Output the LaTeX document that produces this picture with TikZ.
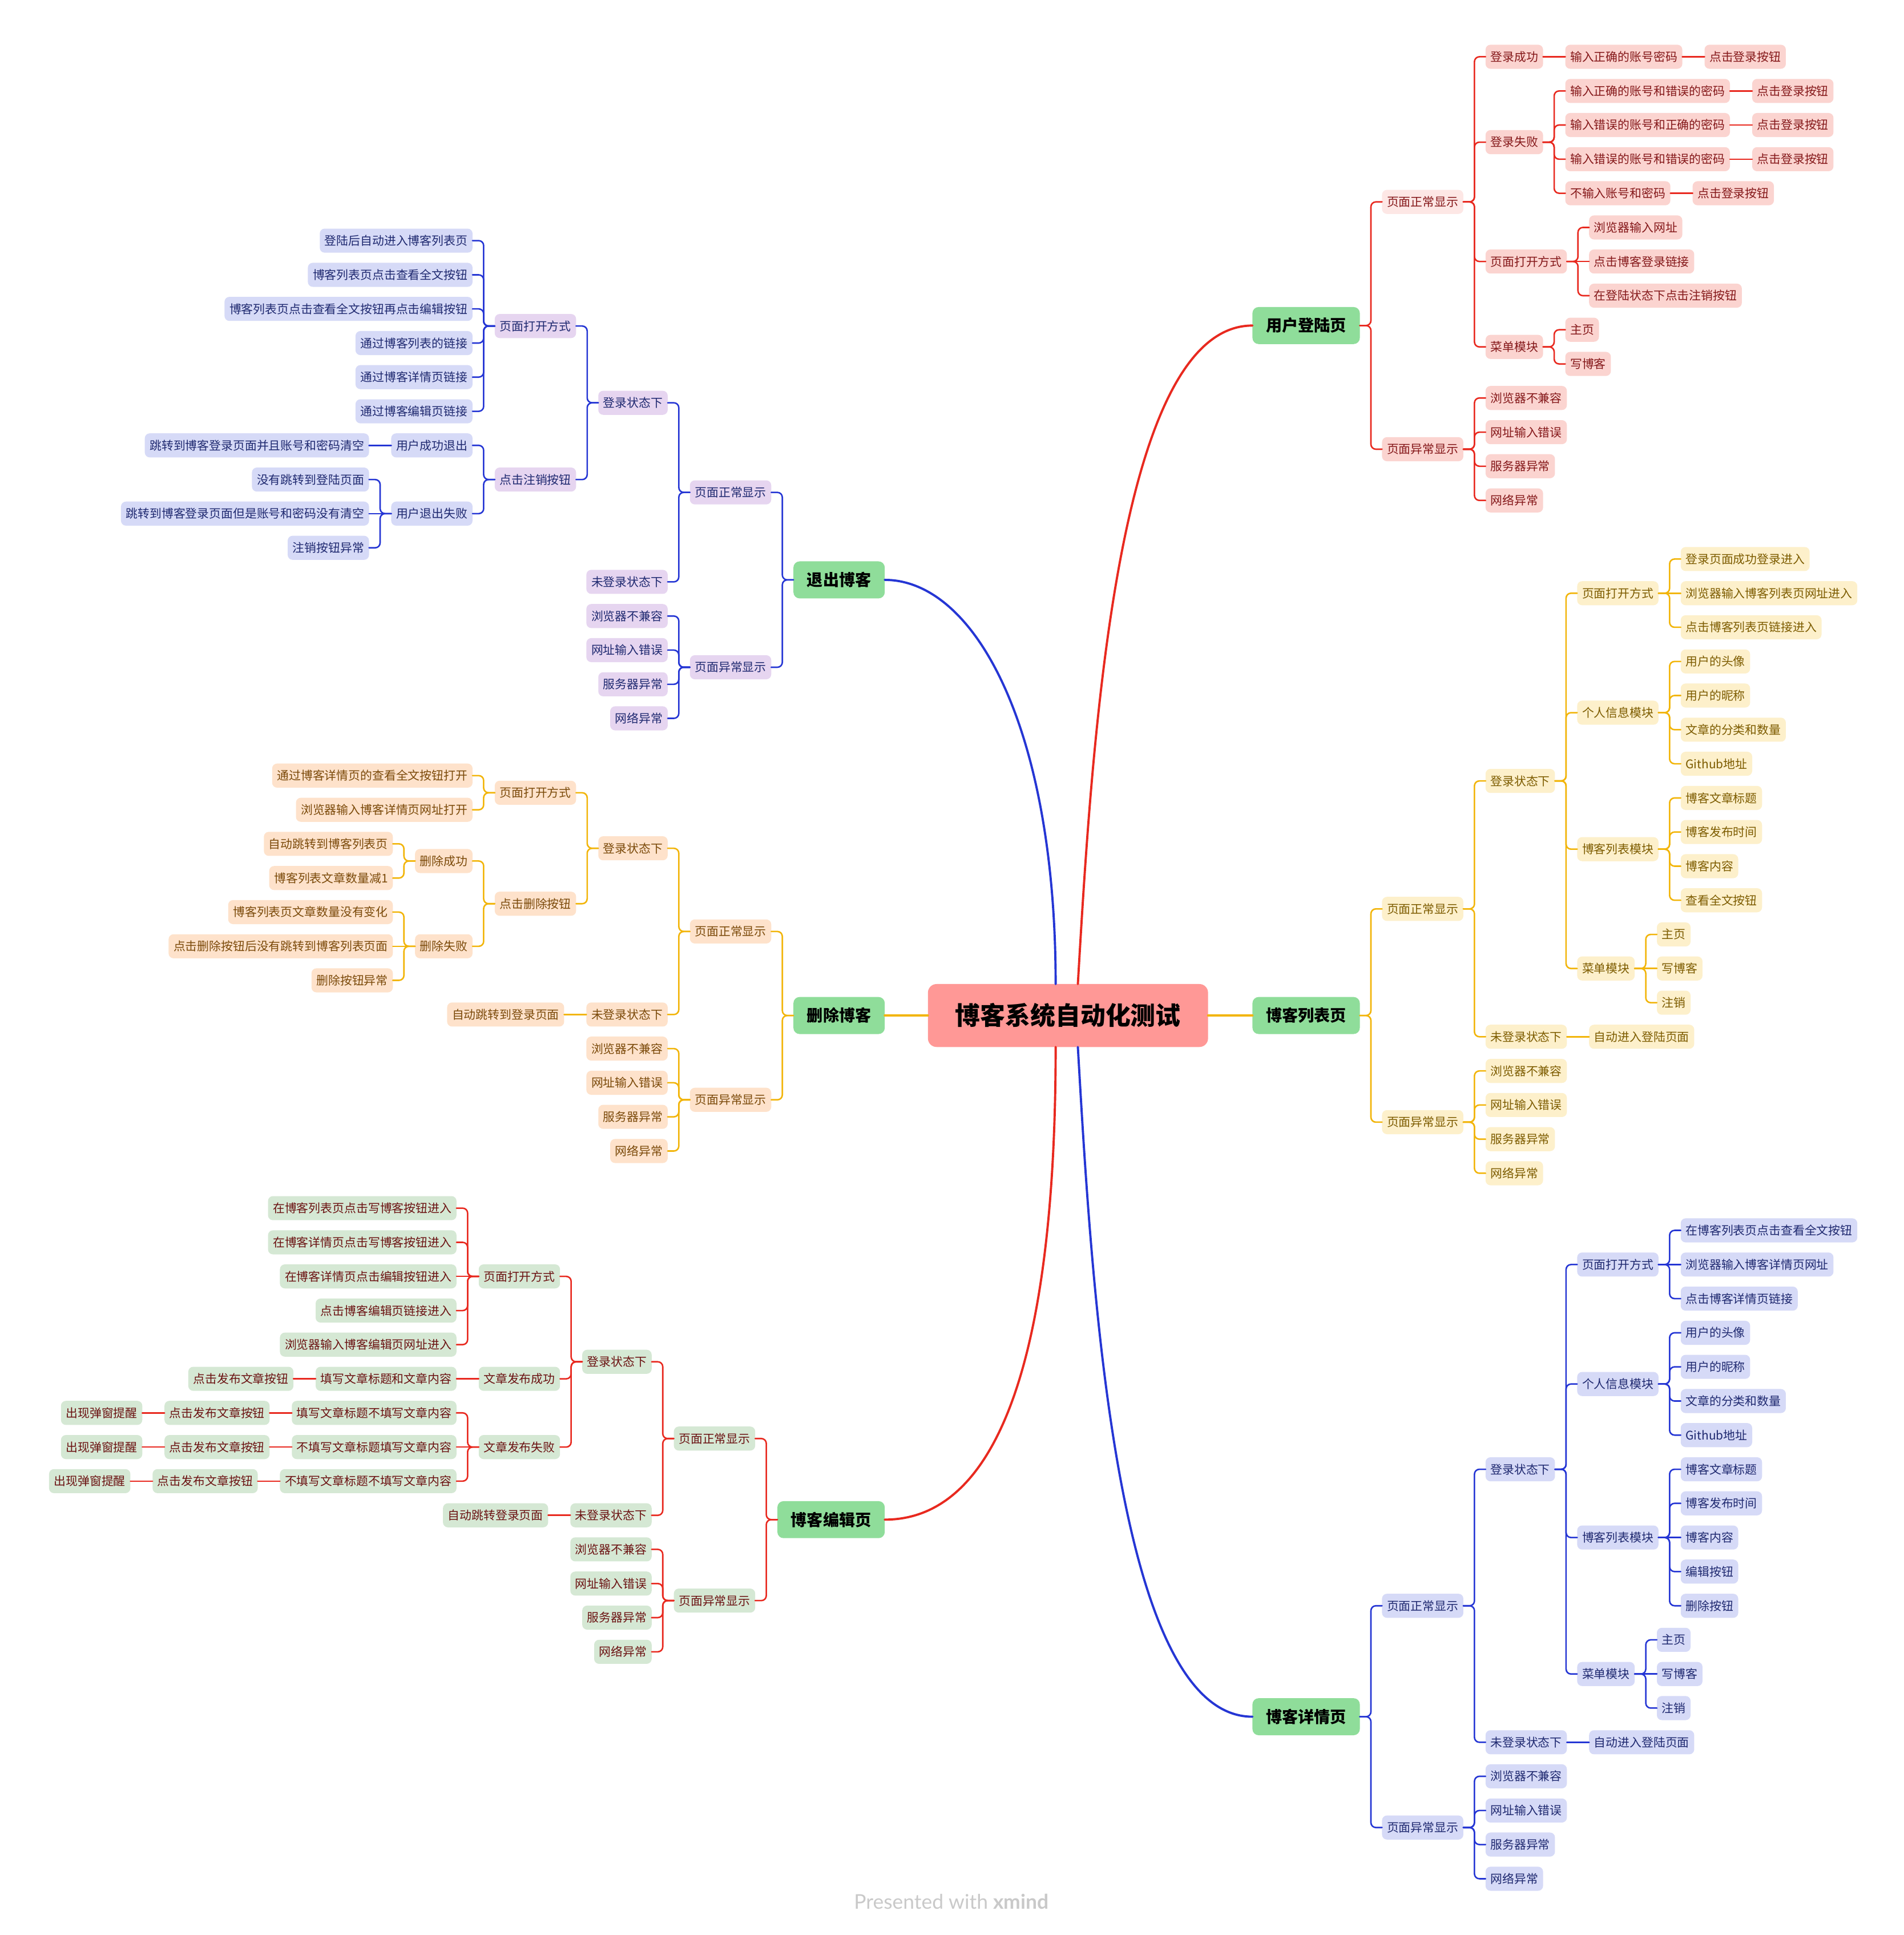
\documentclass[tikz,border=0pt]{standalone}
\usepackage{fontspec}
\setmainfont{Noto Sans CJK SC}
\newfontfamily\wmfont{Lato}
\usetikzlibrary{calc}

\definecolor{rootFill}{HTML}{FF9896}
\definecolor{topicFill}{HTML}{8FDD9A}
\definecolor{redLine}{HTML}{E8291F}
\definecolor{blueLine}{HTML}{2536D4}
\definecolor{yellowLine}{HTML}{F2B50A}
\definecolor{lgFill}{HTML}{FBD4D0}
\definecolor{lgSoftFill}{HTML}{FDE7E5}
\definecolor{lgInk}{HTML}{85181A}
\definecolor{lsFill}{HTML}{FDF0CB}
\definecolor{lsInk}{HTML}{7D5C00}
\definecolor{dlFill}{HTML}{FEE2CB}
\definecolor{dlInk}{HTML}{7B4A0A}
\definecolor{edFill}{HTML}{D5E8D4}
\definecolor{edInk}{HTML}{6B1212}
\definecolor{exFill}{HTML}{E6D5F0}
\definecolor{exLeafFill}{HTML}{D6DAF7}
\definecolor{navyInk}{HTML}{1F2970}

\newdimen\kidDy
% children to the right of a parent: parent, box style, link style, list name/y/text
\newcommand{\rkids}[4]{%
  \foreach \nm/\yy/\txt in {#4}{%
    \node[#2, anchor=west] (\nm) at ($(#1.east |- 0,\yy)+(18,0)$) {\txt};
    \pgfextracty{\kidDy}{\pgfpointdiff{\pgfpointanchor{#1}{center}}{\pgfpointanchor{\nm}{center}}}%
    \ifdim\kidDy<0pt \kidDy=-\kidDy\fi
    \ifdim\kidDy<0.5pt
      \draw[#3] (#1.east) -- (\nm.west);
    \else
      \draw[#3] (#1.east) -- ($(\nm.west |- #1.east)+(-9,0)$) |- (\nm.west);
    \fi
  }}
% children to the left of a parent
\newcommand{\lkids}[4]{%
  \foreach \nm/\yy/\txt in {#4}{%
    \node[#2, anchor=east] (\nm) at ($(#1.west |- 0,\yy)+(-18,0)$) {\txt};
    \pgfextracty{\kidDy}{\pgfpointdiff{\pgfpointanchor{#1}{center}}{\pgfpointanchor{\nm}{center}}}%
    \ifdim\kidDy<0pt \kidDy=-\kidDy\fi
    \ifdim\kidDy<0.5pt
      \draw[#3] (#1.west) -- (\nm.east);
    \else
      \draw[#3] (#1.west) -- ($(\nm.east |- #1.west)+(9,0)$) |- (\nm.east);
    \fi
  }}

\begin{document}
\begin{tikzpicture}[
  x=1pt, y=-1pt,
  line cap=round,
  line join=round,
  box/.style={inner xsep=4pt, inner ysep=0pt, outer sep=0pt, minimum height=19.5pt,
    rounded corners=4pt, font=\fontsize{9.65}{11}\selectfont},
  lgbox/.style={box, fill=lgFill, text=lgInk},
  lgsoft/.style={box, fill=lgSoftFill, text=lgInk},
  lsbox/.style={box, fill=lsFill, text=lsInk},
  dlbox/.style={box, fill=dlFill, text=dlInk},
  edbox/.style={box, fill=edFill, text=edInk},
  exbox/.style={box, fill=exFill, text=navyInk},
  exleaf/.style={box, fill=exLeafFill, text=navyInk},
  dtbox/.style={box, fill=exLeafFill, text=navyInk},
  topic/.style={fill=topicFill, text=black, rounded corners=5pt, inner xsep=11pt,
    inner ysep=0pt, outer sep=0pt, minimum height=30pt, font=\fontsize{13}{15}\selectfont\bfseries},
  root/.style={fill=rootFill, text=black, rounded corners=7pt, inner xsep=22.15pt,
    inner ysep=0pt, outer sep=0pt, minimum height=51pt, font=\fontsize{20.3}{24}\selectfont\bfseries},
  redlink/.style={draw=redLine, line width=1.2pt, rounded corners=4pt},
  bluelink/.style={draw=blueLine, line width=1.2pt, rounded corners=4pt},
  yellowlink/.style={draw=yellowLine, line width=1.2pt, rounded corners=4pt},
  mainline/.style={line width=1.8pt},
  wm/.style={text=black!21, font=\wmfont\fontsize{16.4}{19}\selectfont}
]

\fill[white] (0,0) rectangle (1543,1568);
\useasboundingbox (0,0) rectangle (1543,1568);

% Central topic and the six pages.
\node[root] (root) at (865.5,822.9) {博客系统自动化测试};
\node[topic, anchor=west] (lg) at (1015,263.8) {用户登陆页};
\node[topic, anchor=west] (ls) at (1015,822.9) {博客列表页};
\node[topic, anchor=west] (dt) at (1015,1391.1) {博客详情页};
\node[topic, anchor=east] (ex) at (717,469.9) {退出博客};
\node[topic, anchor=east] (dl) at (717,822.9) {删除博客};
\node[topic, anchor=east] (ed) at (717,1231.4) {博客编辑页};

\draw[mainline, redLine] ([xshift=8pt]root.north) .. controls (885,600) and (905,263.8) .. (lg.west);
\draw[mainline, blueLine] ([xshift=-10pt]root.north) .. controls (855.5,590) and (790,469.9) .. (ex.east);
\draw[mainline, redLine] ([xshift=-10pt]root.south) .. controls (855.5,1110) and (805,1231.4) .. (ed.east);
\draw[mainline, blueLine] ([xshift=8pt]root.south) .. controls (885,1048) and (905,1391.1) .. (dt.west);
\draw[mainline, yellowLine] (root.west) -- (dl.east);
\draw[mainline, yellowLine] (root.east) -- (ls.west);

% User login page.
\rkids{lg}{lgsoft}{redlink}{lgN/163.6/页面正常显示}
\rkids{lg}{lgbox}{redlink}{lgA/364.0/页面异常显示}
\rkids{lgN}{lgbox}{redlink}{lgOk/46.0/登录成功, lgFail/115.2/登录失败, lgOpen/211.9/页面打开方式, lgMenu/281.1/菜单模块}
\rkids{lgOk}{lgbox}{redlink}{lgOkIn/46.0/输入正确的账号密码}
\rkids{lgOkIn}{lgbox}{redlink}{lgOkBtn/46.0/点击登录按钮}
\rkids{lgFail}{lgbox}{redlink}{lgF1/73.7/输入正确的账号和错误的密码, lgF2/101.3/输入错误的账号和正确的密码,
  lgF3/129.0/输入错误的账号和错误的密码, lgF4/156.6/不输入账号和密码}
\rkids{lgF1}{lgbox}{redlink}{lgF1b/73.7/点击登录按钮}
\rkids{lgF2}{lgbox}{redlink}{lgF2b/101.3/点击登录按钮}
\rkids{lgF3}{lgbox}{redlink}{lgF3b/129.0/点击登录按钮}
\rkids{lgF4}{lgbox}{redlink}{lgF4b/156.6/点击登录按钮}
\rkids{lgOpen}{lgbox}{redlink}{lgO1/184.3/浏览器输入网址, lgO2/211.9/点击博客登录链接, lgO3/239.6/在登陆状态下点击注销按钮}
\rkids{lgMenu}{lgbox}{redlink}{lgM1/267.2/主页, lgM2/294.9/写博客}
\rkids{lgA}{lgbox}{redlink}{lgA1/322.5/浏览器不兼容, lgA2/350.2/网址输入错误, lgA3/377.8/服务器异常, lgA4/405.5/网络异常}

% Blog list page.
\rkids{ls}{lsbox}{yellowlink}{lsN/736.5/页面正常显示, lsA/909.3/页面异常显示}
\rkids{lsN}{lsbox}{yellowlink}{lsIn/632.8/登录状态下, lsOut/840.1/未登录状态下}
\rkids{lsIn}{lsbox}{yellowlink}{lsOpen/480.7/页面打开方式, lsInfo/577.5/个人信息模块, lsList/688.1/博客列表模块, lsMenu/784.8/菜单模块}
\rkids{lsOpen}{lsbox}{yellowlink}{lsO1/453.0/登录页面成功登录进入, lsO2/480.7/浏览器输入博客列表页网址进入, lsO3/508.3/点击博客列表页链接进入}
\rkids{lsInfo}{lsbox}{yellowlink}{lsI1/536.0/用户的头像, lsI2/563.6/用户的昵称, lsI3/591.3/文章的分类和数量, lsI4/618.9/Github地址}
\rkids{lsList}{lsbox}{yellowlink}{lsL1/646.6/博客文章标题, lsL2/674.2/博客发布时间, lsL3/701.9/博客内容, lsL4/729.5/查看全文按钮}
\rkids{lsMenu}{lsbox}{yellowlink}{lsM1/757.2/主页, lsM2/784.8/写博客, lsM3/812.5/注销}
\rkids{lsOut}{lsbox}{yellowlink}{lsOutGo/840.1/自动进入登陆页面}
\rkids{lsA}{lsbox}{yellowlink}{lsA1/867.8/浏览器不兼容, lsA2/895.4/网址输入错误, lsA3/923.1/服务器异常, lsA4/950.7/网络异常}

% Blog detail page.
\rkids{dt}{dtbox}{bluelink}{dtN/1301.2/页面正常显示, dtA/1480.9/页面异常显示}
\rkids{dtN}{dtbox}{bluelink}{dtIn/1190.6/登录状态下, dtOut/1411.8/未登录状态下}
\rkids{dtIn}{dtbox}{bluelink}{dtOpen/1024.7/页面打开方式, dtInfo/1121.5/个人信息模块, dtList/1245.9/博客列表模块, dtMenu/1356.5/菜单模块}
\rkids{dtOpen}{dtbox}{bluelink}{dtO1/997.0/在博客列表页点击查看全文按钮, dtO2/1024.7/浏览器输入博客详情页网址, dtO3/1052.3/点击博客详情页链接}
\rkids{dtInfo}{dtbox}{bluelink}{dtI1/1080.0/用户的头像, dtI2/1107.6/用户的昵称, dtI3/1135.3/文章的分类和数量, dtI4/1162.9/Github地址}
\rkids{dtList}{dtbox}{bluelink}{dtL1/1190.6/博客文章标题, dtL2/1218.2/博客发布时间, dtL3/1245.9/博客内容, dtL4/1273.5/编辑按钮, dtL5/1301.2/删除按钮}
\rkids{dtMenu}{dtbox}{bluelink}{dtM1/1328.8/主页, dtM2/1356.5/写博客, dtM3/1384.1/注销}
\rkids{dtOut}{dtbox}{bluelink}{dtOutGo/1411.8/自动进入登陆页面}
\rkids{dtA}{dtbox}{bluelink}{dtA1/1439.4/浏览器不兼容, dtA2/1467.1/网址输入错误, dtA3/1494.7/服务器异常, dtA4/1522.4/网络异常}

% Log out.
\lkids{ex}{exbox}{bluelink}{exN/399.0/页面正常显示, exA/540.7/页面异常显示}
\lkids{exN}{exbox}{bluelink}{exIn/326.4/登录状态下, exOut/471.5/未登录状态下}
\lkids{exIn}{exbox}{bluelink}{exOpen/264.2/页面打开方式, exQuit/388.6/点击注销按钮}
\lkids{exOpen}{exleaf}{bluelink}{exO1/195.0/登陆后自动进入博客列表页, exO2/222.7/博客列表页点击查看全文按钮,
  exO3/250.3/博客列表页点击查看全文按钮再点击编辑按钮, exO4/278.0/通过博客列表的链接,
  exO5/305.6/通过博客详情页链接, exO6/333.3/通过博客编辑页链接}
\lkids{exQuit}{exleaf}{bluelink}{exOk/360.9/用户成功退出, exFail/416.2/用户退出失败}
\lkids{exOk}{exleaf}{bluelink}{exOkGo/360.9/跳转到博客登录页面并且账号和密码清空}
\lkids{exFail}{exleaf}{bluelink}{exF1/388.6/没有跳转到登陆页面, exF2/416.2/跳转到博客登录页面但是账号和密码没有清空, exF3/443.9/注销按钮异常}
\lkids{exA}{exbox}{bluelink}{exA1/499.2/浏览器不兼容, exA2/526.8/网址输入错误, exA3/554.5/服务器异常, exA4/582.1/网络异常}

% Delete blog.
\lkids{dl}{dlbox}{yellowlink}{dlN/754.8/页面正常显示, dlA/891.2/页面异常显示}
\lkids{dlN}{dlbox}{yellowlink}{dlIn/687.4/登录状态下, dlOut/822.1/未登录状态下}
\lkids{dlIn}{dlbox}{yellowlink}{dlOpen/642.4/页面打开方式, dlDel/732.3/点击删除按钮}
\lkids{dlOpen}{dlbox}{yellowlink}{dlO1/628.5/通过博客详情页的查看全文按钮打开, dlO2/656.2/浏览器输入博客详情页网址打开}
\lkids{dlDel}{dlbox}{yellowlink}{dlOk/697.7/删除成功, dlFail/766.8/删除失败}
\lkids{dlOk}{dlbox}{yellowlink}{dlOk1/683.8/自动跳转到博客列表页, dlOk2/711.5/博客列表文章数量减1}
\lkids{dlFail}{dlbox}{yellowlink}{dlF1/739.1/博客列表页文章数量没有变化, dlF2/766.8/点击删除按钮后没有跳转到博客列表页面, dlF3/794.4/删除按钮异常}
\lkids{dlOut}{dlbox}{yellowlink}{dlOutGo/822.1/自动跳转到登录页面}
\lkids{dlA}{dlbox}{yellowlink}{dlA1/849.7/浏览器不兼容, dlA2/877.4/网址输入错误, dlA3/905.0/服务器异常, dlA4/932.7/网络异常}

% Blog edit page.
\lkids{ed}{edbox}{redlink}{edN/1165.7/页面正常显示, edA/1297.0/页面异常显示}
\lkids{edN}{edbox}{redlink}{edIn/1103.5/登录状态下, edOut/1227.9/未登录状态下}
\lkids{edIn}{edbox}{redlink}{edOpen/1034.3/页面打开方式, edOk/1117.3/文章发布成功, edFail/1172.6/文章发布失败}
\lkids{edOpen}{edbox}{redlink}{edO1/979.0/在博客列表页点击写博客按钮进入, edO2/1006.7/在博客详情页点击写博客按钮进入,
  edO3/1034.3/在博客详情页点击编辑按钮进入, edO4/1062.0/点击博客编辑页链接进入, edO5/1089.6/浏览器输入博客编辑页网址进入}
\lkids{edOk}{edbox}{redlink}{edOk1/1117.3/填写文章标题和文章内容}
\lkids{edOk1}{edbox}{redlink}{edOk2/1117.3/点击发布文章按钮}
\lkids{edFail}{edbox}{redlink}{edF1/1144.9/填写文章标题不填写文章内容, edF2/1172.6/不填写文章标题填写文章内容, edF3/1200.2/不填写文章标题不填写文章内容}
\lkids{edF1}{edbox}{redlink}{edF1b/1144.9/点击发布文章按钮}
\lkids{edF1b}{edbox}{redlink}{edF1c/1144.9/出现弹窗提醒}
\lkids{edF2}{edbox}{redlink}{edF2b/1172.6/点击发布文章按钮}
\lkids{edF2b}{edbox}{redlink}{edF2c/1172.6/出现弹窗提醒}
\lkids{edF3}{edbox}{redlink}{edF3b/1200.2/点击发布文章按钮}
\lkids{edF3b}{edbox}{redlink}{edF3c/1200.2/出现弹窗提醒}
\lkids{edOut}{edbox}{redlink}{edOutGo/1227.9/自动跳转登录页面}
\lkids{edA}{edbox}{redlink}{edA1/1255.5/浏览器不兼容, edA2/1283.2/网址输入错误, edA3/1310.8/服务器异常, edA4/1338.5/网络异常}

\node[wm] (credit) at (771,1541) {Presented with \textbf{xmind}};

\end{tikzpicture}
\end{document}
